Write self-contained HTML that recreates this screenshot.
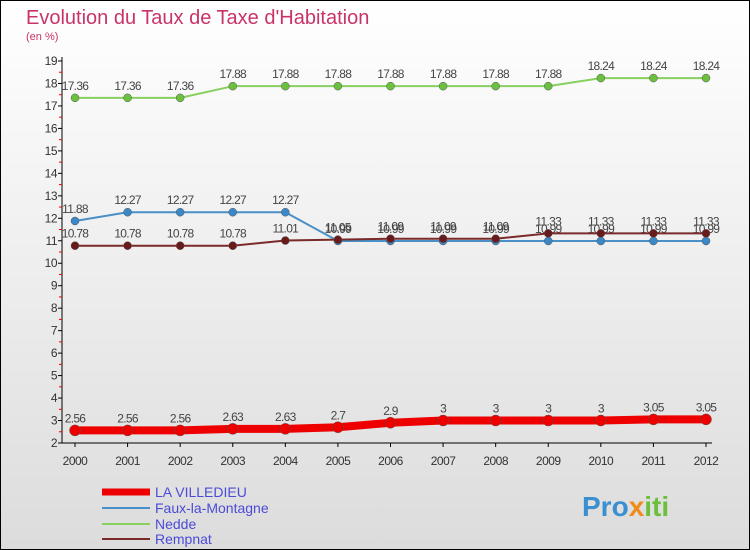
<!DOCTYPE html>
<html><head><meta charset="utf-8"><style>
body{margin:0;width:750px;height:550px;overflow:hidden;font-family:"Liberation Sans",sans-serif}
svg{display:block}
</style></head><body>
<svg id="c" width="750" height="550">
<defs><linearGradient id="bg" x1="0" y1="0" x2="0" y2="1"><stop offset="0" stop-color="#ffffff"/><stop offset="1" stop-color="#dcdcdc"/></linearGradient></defs>
<rect x="0.5" y="0.5" width="749" height="549" fill="url(#bg)" stroke="#000"/>
<text x="26" y="24" font-size="20" fill="#c8336a">Evolution du Taux de Taxe d'Habitation</text>
<text x="26" y="40" font-size="11" fill="#c8336a">(en %)</text>
<g id="axes"></g><g id="series"></g>
<g>
<line x1="102" y1="492" x2="150" y2="492" stroke="#ee0000" stroke-width="7"/>
<text x="155" y="497" font-size="14" fill="#4b4bd8">LA VILLEDIEU</text>
<line x1="102" y1="508" x2="150" y2="508" stroke="#4a90c8" stroke-width="2"/>
<text x="155" y="513" font-size="14" fill="#4b4bd8">Faux-la-Montagne</text>
<line x1="102" y1="524" x2="150" y2="524" stroke="#88d060" stroke-width="2"/>
<text x="155" y="529" font-size="14" fill="#4b4bd8">Nedde</text>
<line x1="102" y1="539" x2="150" y2="539" stroke="#7a2a2a" stroke-width="2"/>
<text x="155" y="544" font-size="14" fill="#4b4bd8">Rempnat</text>
</g>
<text x="582" y="516" font-size="28" font-weight="bold" fill="#3a8fd0">Pro<tspan fill="#f08a1a">x</tspan><tspan fill="#6cbf3a">iti</tspan></text>
</svg>
<script>
const years=[2000,2001,2002,2003,2004,2005,2006,2007,2008,2009,2010,2011,2012];
const yTicks=[2,3,4,5,6,7,8,9,10,11,12,13,14,15,16,17,18,19];
const villedieu=[2.56,2.56,2.56,2.63,2.63,2.7,2.9,3,3,3,3,3.05,3.05];
const faux=[11.88,12.27,12.27,12.27,12.27,10.99,10.99,10.99,10.99,10.99,10.99,10.99,10.99];
const nedde=[17.36,17.36,17.36,17.88,17.88,17.88,17.88,17.88,17.88,17.88,18.24,18.24,18.24];
const rempnat=[10.78,10.78,10.78,10.78,11.01,11.05,11.09,11.09,11.09,11.33,11.33,11.33,11.33];
const NS="http://www.w3.org/2000/svg";
const X=i=>75+i*(706-75)/(years.length-1);
const Y=v=>443-(v-2)*(443-61)/17;
function mk(t,a,p){const e=document.createElementNS(NS,t);for(const k in a)e.setAttribute(k,a[k]);p.appendChild(e);return e;}
const ax=document.getElementById('axes');
const yl=mk('line',{x1:62,y1:57,x2:62,y2:443,stroke:'#000'},ax);


const xl=mk('line',{x1:62,y1:443,x2:712,y2:443,stroke:'#000'},ax);


yTicks.forEach(v=>{
  mk('line',{x1:58,y1:Y(v),x2:62,y2:Y(v),stroke:'#000'},ax);
  if(v<19)mk('line',{x1:59,y1:Y(v+0.5),x2:62,y2:Y(v+0.5),stroke:'#e00'},ax);
  const t=mk('text',{x:57,y:Y(v)+4,'font-size':12,'text-anchor':'end',fill:'#333','letter-spacing':'-0.5'},ax);t.textContent=v;
  
  
});
years.forEach((yr,i)=>{
  mk('line',{x1:X(i),y1:443,x2:X(i),y2:447,stroke:'#000'},ax);
  const t=mk('text',{x:X(i),y:465,'font-size':12,'text-anchor':'middle',fill:'#333','letter-spacing':'-0.5'},ax);t.textContent=yr;
  
  
});
const sg=document.getElementById('series');
function draw(data,color,w,r,name,fill){
  const g=mk('g',{},sg);
  
  
  mk('polyline',{points:data.map((v,i)=>X(i)+','+Y(v)).join(' '),fill:'none',stroke:color,'stroke-width':w,'stroke-linejoin':'round','stroke-linecap':'round'},g);
  data.forEach((v,i)=>{
    const c=mk('circle',{cx:X(i),cy:Y(v),r:r,fill:fill,stroke:'#555','stroke-width':0.5},g);
    
    
    const t=mk('text',{x:X(i),y:Y(v)-8,'font-size':12,'text-anchor':'middle',fill:'#444','letter-spacing':'-0.7'},g);
    t.textContent=String(v);
  });
}
draw(nedde,'#88d060',2,4,'series-nedde','#6cc040');
draw(faux,'#4a90c8',2,4,'series-faux-la-montagne','#3a88c8');
draw(rempnat,'#7a2a2a',2,4,'series-rempnat','#6a1a1a');
draw(villedieu,'#ee0000',8,5.5,'series-la-villedieu','#ee0000');
</script>
</body></html>
